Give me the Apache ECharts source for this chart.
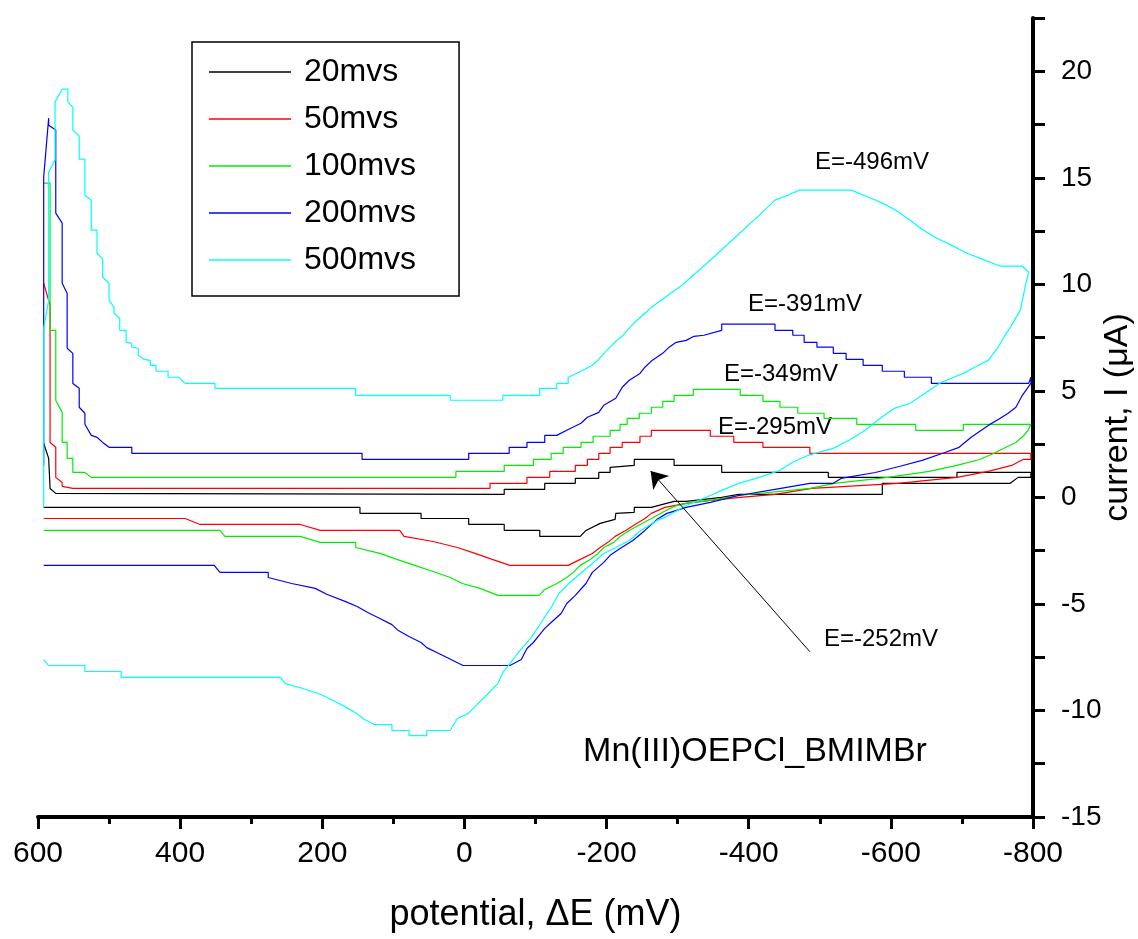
<!DOCTYPE html>
<html><head><meta charset="utf-8">
<script src="https://cdn.jsdelivr.net/npm/echarts@6/dist/echarts.min.js"></script>
<style>html,body{margin:0;padding:0;background:#fff}#c{width:1138px;height:939px}</style>
</head><body><div id="c"></div>
<script>
// ---------- data (potential E in mV, current I in µA) ----------
const seriesNames = ['20mvs', '50mvs', '100mvs', '200mvs', '500mvs'];

const scan20 = [
  [592,2.54],[585,1.83],[583,0.42],[575,0.19],[573,0.14],[-56,0.14],[-56,0.38],[-113,0.38],[-113,0.66],
  [-156,0.66],[-156,0.89],[-189,0.89],[-189,1.17],[-205,1.17],[-205,1.41],[-239,1.50],[-239,1.78],
  [-295,1.78],[-295,1.50],[-362,1.50],[-362,1.17],[-512,1.17],[-512,0.94],[-693,0.94],[-693,1.17],[-797,1.17],
  [-797,0.94],[-779,0.94],[-768,0.66],[-588,0.66],[-588,0.14],[-386,0.14],[-362,0.00],[-312,-0.19],
  [-295,-0.19],[-263,-0.47],[-239,-0.47],[-239,-0.70],[-213,-0.75],[-212,-1.03],[-191,-1.22],[-171,-1.55],
  [-163,-1.83],[-106,-1.83],[-106,-1.55],[-56,-1.55],[-56,-1.27],[-6,-1.27],[-6,-0.99],[61,-0.99],
  [61,-0.75],[147,-0.75],[147,-0.47],[592,-0.47]
];

const scan50 = [
  [592,10.05],[583,9.02],[583,2.58],[575,2.35],[575,0.94],[566,0.70],[566,0.52],[551,0.42],[-36,0.42],
  [-36,0.66],[-88,0.66],[-88,0.94],[-120,0.94],[-120,1.22],[-156,1.22],[-156,1.50],[-173,1.50],[-173,1.78],
  [-189,1.78],[-189,2.07],[-205,2.07],[-205,2.35],[-222,2.35],[-222,2.58],[-247,2.58],[-247,2.87],
  [-263,2.87],[-263,3.15],[-346,3.15],[-346,2.87],[-379,2.87],[-379,2.58],[-420,2.58],[-420,2.35],
  [-486,2.35],[-486,2.07],[-797,2.07],
  [-797,1.78],[-786,1.78],[-770,1.50],[-737,1.22],[-693,0.94],[-610,0.66],[-489,0.42],[-437,0.14],
  [-388,0.00],[-346,-0.14],[-312,-0.28],[-282,-0.47],[-263,-0.75],[-254,-0.99],[-240,-1.27],[-227,-1.55],
  [-212,-1.83],[-202,-2.11],[-191,-2.35],[-180,-2.63],[-163,-2.91],[-146,-3.19],[-64,-3.19],[-39,-2.91],
  [-15,-2.63],[10,-2.35],[44,-2.07],[85,-1.83],[91,-1.55],[203,-1.55],[231,-1.27],[372,-1.27],
  [393,-0.99],[592,-0.99]
];

const scan100 = [
  [592,14.75],[583,14.75],[583,7.84],[575,7.84],[575,4.56],[566,3.99],[566,2.58],[559,2.58],[559,1.83],
  [551,1.83],[551,1.17],[534,1.17],[525,0.94],[12,0.94],[12,1.22],[-56,1.22],[-56,1.50],[-97,1.50],
  [-97,1.78],[-122,1.78],[-122,2.07],[-139,2.07],[-139,2.35],[-164,2.35],[-164,2.58],[-181,2.58],
  [-181,2.87],[-205,2.87],[-205,3.15],[-219,3.15],[-219,3.43],[-229,3.43],[-229,3.71],[-246,3.71],
  [-246,3.95],[-263,3.95],[-263,4.23],[-279,4.23],[-279,4.51],[-295,4.51],[-295,4.79],[-322,4.79],
  [-322,5.07],[-388,5.07],[-388,4.79],[-420,4.79],[-420,4.51],[-444,4.51],[-444,4.23],[-469,4.23],
  [-469,3.95],[-506,3.95],[-506,3.71],[-552,3.71],[-552,3.43],[-635,3.43],[-635,3.15],[-702,3.15],
  [-702,3.43],[-797,3.43],
  [-793,3.15],[-786,2.87],[-776,2.58],[-762,2.35],[-745,2.07],[-725,1.78],[-693,1.50],[-654,1.22],
  [-596,0.94],[-521,0.66],[-486,0.42],[-386,0.09],[-346,-0.14],[-312,-0.28],[-295,-0.42],[-279,-0.70],
  [-263,-0.99],[-247,-1.27],[-232,-1.55],[-219,-1.83],[-210,-2.11],[-196,-2.35],[-188,-2.63],[-177,-2.91],
  [-163,-3.19],[-153,-3.52],[-144,-3.76],[-130,-4.04],[-113,-4.32],[-105,-4.60],[-47,-4.60],[-22,-4.27],
  [3,-4.04],[20,-3.76],[44,-3.48],[70,-3.19],[95,-2.91],[119,-2.63],[153,-2.35],[153,-2.11],[203,-2.11],
  [231,-1.83],[337,-1.83],[344,-1.55],[592,-1.55]
];

const scan200 = [
  [592,1.50],[592,15.03],[585,17.80],[585,17.47],[575,17.24],[575,13.34],[566,12.87],[566,10.05],
  [559,9.58],[559,7.00],[551,6.76],[551,5.35],[542,5.12],[542,4.23],[534,3.95],[534,3.43],[525,2.91],
  [517,2.82],[509,2.58],[500,2.35],[468,2.35],[468,2.07],[144,2.07],[144,1.78],[-6,1.78],[-6,2.07],
  [-63,2.07],[-63,2.35],[-88,2.35],[-88,2.58],[-113,2.58],[-113,2.91],[-130,2.91],[-146,3.19],
  [-164,3.48],[-173,3.76],[-189,3.99],[-196,4.32],[-213,4.65],[-222,5.17],[-232,5.50],[-247,5.82],
  [-254,6.11],[-264,6.43],[-279,6.76],[-288,7.05],[-298,7.28],[-312,7.37],[-323,7.56],[-337,7.61],
  [-362,7.84],[-362,8.13],[-437,8.13],[-437,7.84],[-462,7.84],[-462,7.61],[-478,7.61],[-478,7.28],
  [-496,7.28],[-496,7.05],[-519,7.05],[-519,6.76],[-537,6.76],[-537,6.48],[-561,6.48],[-561,6.20],
  [-588,6.20],[-588,5.92],[-619,5.92],[-619,5.64],[-657,5.64],[-657,5.35],[-794,5.35],[-797,5.64],
  [-797,5.35],[-785,4.79],[-776,4.23],[-765,3.95],[-754,3.71],[-737,3.38],[-713,2.82],[-696,2.35],
  [-673,2.07],[-644,1.74],[-613,1.46],[-578,1.17],[-530,0.89],[-519,0.66],[-486,0.66],[-437,0.38],
  [-386,0.09],[-346,-0.23],[-312,-0.47],[-285,-0.75],[-271,-1.03],[-254,-1.55],[-237,-2.02],[-219,-2.40],
  [-205,-2.72],[-196,-3.05],[-180,-3.52],[-171,-4.04],[-156,-4.60],[-144,-4.98],[-136,-5.45],[-122,-5.87],
  [-113,-6.15],[-105,-6.48],[-97,-6.81],[-88,-7.09],[-80,-7.61],[-64,-7.89],[2,-7.89],[19,-7.61],
  [36,-7.33],[53,-7.05],[61,-6.81],[78,-6.53],[93,-6.25],[102,-5.97],[119,-5.68],[136,-5.40],
  [151,-5.12],[168,-4.88],[193,-4.56],[210,-4.27],[243,-4.04],[276,-3.76],[276,-3.52],[344,-3.52],
  [352,-3.19],[592,-3.19]
];

const scan500 = [
  [592,-0.47],[592,7.94],[585,9.25],[585,15.27],[576,15.83],[576,18.55],[566,19.16],[558,19.16],
  [558,18.55],[551,18.32],[551,17.24],[542,16.96],[542,15.88],[534,15.88],[534,14.18],[525,13.95],
  [525,12.54],[517,12.54],[517,11.46],[509,11.18],[509,10.33],[500,10.05],[500,9.25],[493,8.92],
  [493,8.64],[485,8.41],[485,7.84],[476,7.84],[476,7.28],[468,7.23],[468,7.05],[459,7.00],[459,6.67],
  [451,6.48],[442,6.43],[442,6.20],[434,6.20],[434,5.92],[417,5.92],[417,5.64],[402,5.64],[393,5.35],
  [351,5.35],[351,5.12],[153,5.12],[153,4.79],[20,4.79],[20,4.56],[-54,4.56],[-54,4.79],[-106,4.79],
  [-106,5.12],[-130,5.12],[-130,5.35],[-146,5.35],[-146,5.64],[-164,5.92],[-180,6.20],[-189,6.48],
  [-196,6.76],[-205,7.05],[-213,7.33],[-222,7.56],[-229,7.84],[-237,8.13],[-246,8.41],[-254,8.64],
  [-263,8.92],[-306,9.96],[-346,11.13],[-381,12.21],[-415,13.25],[-437,13.95],[-455,14.18],[-471,14.42],
  [-544,14.42],[-569,14.09],[-588,13.81],[-607,13.48],[-627,13.01],[-644,12.59],[-662,12.21],[-685,11.84],
  [-707,11.46],[-725,11.23],[-754,10.85],[-785,10.85],[-794,10.57],
  [-790,10.05],[-782,8.78],[-768,7.98],[-759,7.52],[-751,7.05],[-737,6.43],[-718,6.11],[-702,5.82],
  [-685,5.59],[-668,5.35],[-644,4.79],[-627,4.42],[-605,4.18],[-581,3.62],[-564,3.15],[-541,2.68],
  [-519,2.30],[-483,1.97],[-461,1.64],[-444,1.27],[-415,0.94],[-386,0.66],[-362,0.33],[-346,0.09],
  [-312,-0.38],[-282,-0.94],[-271,-1.08],[-248,-1.55],[-232,-2.02],[-213,-2.35],[-196,-2.63],[-180,-3.10],
  [-163,-3.57],[-147,-4.04],[-133,-4.51],[-122,-5.17],[-108,-5.87],[-94,-6.58],[-78,-7.19],[-64,-7.80],
  [-54,-8.22],[-47,-8.74],[-32,-9.25],[-15,-9.82],[-5,-10.15],[10,-10.38],[20,-10.94],[53,-10.94],
  [53,-11.18],[78,-11.18],[78,-10.94],[102,-10.94],[102,-10.66],[127,-10.66],[143,-10.38],[151,-10.15],
  [168,-9.82],[185,-9.53],[202,-9.25],[227,-8.97],[252,-8.74],[259,-8.45],[483,-8.45],[483,-8.17],
  [534,-8.17],[534,-7.89],[585,-7.89],[592,-7.61]
];

const yLabelValues = [-15, -10, -5, 0, 5, 10, 15, 20];
const peakLabels = ['E=-496mV', 'E=-391mV', 'E=-349mV', 'E=-295mV', 'E=-252mV'];
const sampleLabel = 'Mn(III)OEPCl_BMIMBr';
const arrowFrom = [-486, -7.24];
const arrowTo = [-262, 1.24];

// ---------- styling ----------
const colors = ['#000000', '#ff0000', '#00ee00', '#0000ff', '#00ffff'];
const FONT = '"Liberation Sans", Arial, Helvetica, sans-serif';
const scans = [scan20, scan50, scan100, scan200, scan500];

const series = scans.map((d, i) => ({
  type: 'line', name: seriesNames[i], data: d,
  symbol: 'none', showSymbol: false, animation: false, silent: true,
  lineStyle: { color: colors[i], width: 1.2 }, itemStyle: { color: colors[i] },
  emphasis: { disabled: true }
}));
series[0].markLine = {
  silent: true, animation: false,
  symbol: ['none', 'arrow'], symbolSize: 16,
  label: { show: false },
  lineStyle: { color: '#000', width: 1, type: 'solid' },
  itemStyle: { color: '#000' },
  emphasis: { disabled: true },
  data: [[{ coord: arrowFrom }, { coord: arrowTo }]]
};

const labelPos = [[872, 162], [805, 304], [781, 374], [775, 427], [881, 639]];
const graphics = peakLabels.map((t, i) => ({
  type: 'text', x: labelPos[i][0], y: labelPos[i][1], silent: true,
  style: { text: t, font: '24px ' + FONT, fill: '#000', align: 'center', verticalAlign: 'middle',
           textAlign: 'center', textVerticalAlign: 'middle' }
}));
graphics.push({
  type: 'text', x: 755, y: 752, silent: true,
  style: { text: sampleLabel, font: '34px ' + FONT, fill: '#000', align: 'center', verticalAlign: 'middle',
           textAlign: 'center', textVerticalAlign: 'middle' }
});

const chart = echarts.init(document.getElementById('c'), null, { renderer: 'canvas' });
chart.setOption({
  backgroundColor: '#ffffff',
  animation: false,
  grid: { left: 38, right: 105, top: 18, bottom: 122, containLabel: false, outerBoundsMode: 'none' },
  legend: {
    orient: 'vertical', left: 192, top: 42, padding: [14, 43, 20, 17],
    icon: 'rect', itemWidth: 82, itemHeight: 1.5, itemGap: 15,
    borderColor: '#000', borderWidth: 1.5, selectedMode: false,
    textStyle: { fontSize: 32, fontFamily: FONT, color: '#000', lineHeight: 32, padding: [0, 0, 0, 8] },
    data: seriesNames
  },
  xAxis: {
    type: 'value', inverse: true, min: -800, max: 600, interval: 200, position: 'bottom',
    name: 'potential, \u0394E (mV)', nameLocation: 'middle', nameGap: 80,
    nameTextStyle: { fontSize: 36, fontFamily: FONT, color: '#000' },
    axisLine: { show: true, onZero: false, lineStyle: { color: '#000', width: 4 } },
    axisTick: { show: true, length: 12, lineStyle: { color: '#000', width: 3 } },
    minorTick: { show: true, splitNumber: 2, length: 7, lineStyle: { color: '#000', width: 3 } },
    axisLabel: { fontSize: 30, fontFamily: FONT, color: '#000', margin: 22 },
    splitLine: { show: false }, minorSplitLine: { show: false }
  },
  yAxis: {
    type: 'value', position: 'right', min: -15, max: 22.5, interval: 2.5,
    name: 'current, I (\u03bcA)', nameLocation: 'middle', nameRotate: 90, nameGap: 68,
    nameMoveOverlap: false,
    nameTextStyle: { fontSize: 34, fontFamily: FONT, color: '#000' },
    axisLine: { show: true, onZero: false, lineStyle: { color: '#000', width: 4 } },
    axisTick: { show: true, length: 12, lineStyle: { color: '#000', width: 3 } },
    axisLabel: { fontSize: 28, fontFamily: FONT, color: '#000', margin: 28,
      formatter: v => (yLabelValues.indexOf(Math.round(v * 100) / 100) >= 0 ? String(Math.round(v)) : '') },
    splitLine: { show: false }
  },
  graphic: graphics,
  series: series
});
</script>
</body></html>
